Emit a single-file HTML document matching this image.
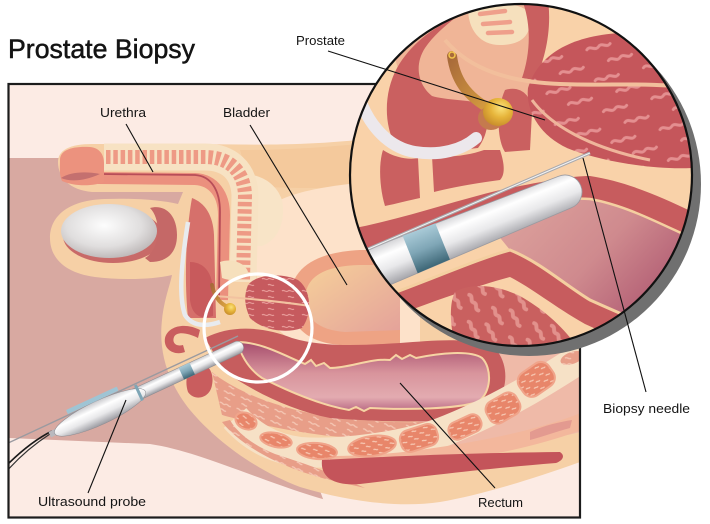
<!DOCTYPE html>
<html><head><meta charset="utf-8"><style>
html,body{margin:0;padding:0;background:#fff;}
svg{display:block;}
text{font-family:"Liberation Sans",sans-serif;fill:#141414;}
</style></head><body>
<svg width="710" height="524" viewBox="0 0 710 524" xmlns="http://www.w3.org/2000/svg">
<defs>
<clipPath id="fc"><rect x="9" y="85" width="570" height="432"/></clipPath>
<clipPath id="mc"><circle cx="521" cy="175" r="171"/></clipPath>
<radialGradient id="testis" cx="0.45" cy="0.4" r="0.65"><stop offset="0" stop-color="#fdfdfd"/><stop offset="0.6" stop-color="#e0dede"/><stop offset="1" stop-color="#b8b2b2"/></radialGradient>
<linearGradient id="blad" x1="0" y1="0" x2="1" y2="1"><stop offset="0" stop-color="#f6d09a"/><stop offset="1" stop-color="#e4a29a"/></linearGradient>
<linearGradient id="lumen" x1="0" y1="0" x2="0" y2="1"><stop offset="0" stop-color="#a54c6c"/><stop offset="0.45" stop-color="#d8949c"/><stop offset="0.8" stop-color="#e3abb0"/><stop offset="1" stop-color="#b96a84"/></linearGradient>
<linearGradient id="lumen2" x1="0" y1="0" x2="1" y2="0.6"><stop offset="0" stop-color="#e0a8a0"/><stop offset="0.55" stop-color="#cf8a8e"/><stop offset="1" stop-color="#a9506c"/></linearGradient>
<linearGradient id="probe" x1="0" y1="0" x2="0" y2="1"><stop offset="0" stop-color="#c9c9cd"/><stop offset="0.3" stop-color="#ffffff"/><stop offset="0.6" stop-color="#e8e8ea"/><stop offset="1" stop-color="#9a9aa0"/></linearGradient>
<linearGradient id="band" x1="0" y1="0" x2="0" y2="1"><stop offset="0" stop-color="#aacbd8"/><stop offset="0.5" stop-color="#7fa6b6"/><stop offset="1" stop-color="#3d6676"/></linearGradient>
<radialGradient id="ball" cx="0.6" cy="0.35" r="0.7"><stop offset="0" stop-color="#fbe27a"/><stop offset="0.5" stop-color="#e6b43a"/><stop offset="1" stop-color="#c68a2a"/></radialGradient>
<linearGradient id="tube" x1="0" y1="0" x2="1" y2="1"><stop offset="0" stop-color="#a86a3a"/><stop offset="1" stop-color="#d9a040"/></linearGradient>
<pattern id="pSal" width="18" height="12" patternUnits="userSpaceOnUse" patternTransform="rotate(20)">
<rect width="18" height="12" fill="#e89e88"/>
<path d="M2,3 c2,-2 4,2 6,0 s4,2 6,0 M5,9 c2,-2 4,2 6,0" stroke="#f5c7b4" stroke-width="1.3" fill="none"/>
</pattern>
<pattern id="pOr" width="12" height="8" patternUnits="userSpaceOnUse">
<rect width="12" height="8" fill="#e8866a"/>
<path d="M1,2 c1.5,-1.5 3,1.5 4.5,0 M6,6 c1.5,-1.5 3,1.5 4.5,0" stroke="#f8cbb6" stroke-width="1.2" fill="none"/>
</pattern>
<pattern id="pRed" width="20" height="12" patternUnits="userSpaceOnUse">
<rect width="20" height="12" fill="#c65a5e"/>
<path d="M2,3 c2,-2 4,2 6,0 s4,2 6,0 M8,9 c2,-2 4,2 6,0" stroke="#e79a98" stroke-width="1.2" fill="none"/>
</pattern>
<pattern id="pRedBig" width="50" height="32" patternUnits="userSpaceOnUse" patternTransform="rotate(-15)">
<rect width="50" height="32" fill="#c5565b"/>
<path d="M4,8 c4,-4 8,4 12,0 s8,4 12,0 M22,24 c4,-4 8,4 12,0 s8,4 12,0" stroke="#e48f90" stroke-width="3" fill="none" stroke-linecap="round"/>
</pattern>
<pattern id="pMus" width="34" height="28" patternUnits="userSpaceOnUse" patternTransform="rotate(60)">
<rect width="34" height="28" fill="#c9605f"/>
<path d="M3,7 c3,-3 6,3 9,0 s6,3 9,0 M14,21 c3,-3 6,3 9,0 s6,3 9,0" stroke="#e2918c" stroke-width="4" fill="none" stroke-linecap="round"/>
</pattern>
</defs>

<rect width="710" height="524" fill="#fff"/>

<!-- ===== MAIN FRAME ===== -->
<g clip-path="url(#fc)">
<rect x="8" y="84" width="572" height="434" fill="#fcebe4"/>
<path d="M8,158 L215,158 L250,300 L330,518 L8,518 Z" fill="#d8a9a1"/>
<path d="M8,438 L150,444 C190,450 230,468 300,492 C340,505 370,512 400,518 L8,518 Z" fill="#fcebe4"/>
<!-- tan body -->
<path d="M58,162 C58,150 70,144 92,144 L200,144 C260,145 320,146 390,136 L580,120 L580,462 C530,480 480,495 440,502 C400,508 350,502 300,487 C255,470 215,440 190,410 C170,385 158,355 162,320 C164,300 170,285 172,275 C150,280 120,280 95,277 C65,273 50,258 50,238 C50,215 70,200 105,199 C135,198 160,200 178,204 L183,192 L92,192 C70,190 58,178 58,162 Z" fill="#f6d0a6"/>
<path d="M240,150 C300,150 340,146 400,140 L400,185 C340,188 290,190 250,185 Z" fill="#f4c99c"/>
<path d="M262,215 C275,192 330,185 390,180 L420,180 L420,355 L330,355 C285,345 262,320 258,290 C255,260 255,235 262,215 Z" fill="#fde2ca"/>
<path d="M238,175 C255,172 275,180 282,200 C286,222 278,240 262,246 L245,246 Z" fill="#f8e4c7"/>
<!-- bladder -->
<path d="M290,300 C290,265 320,252 360,250 L400,250 L400,345 L340,345 C305,342 290,325 290,300 Z" fill="#eea384"/>
<path d="M305,300 C305,276 325,266 360,265 L400,265 L400,330 L345,332 C318,330 305,318 305,300 Z" fill="url(#blad)"/>

<!-- penis structures -->
<path d="M104,157 L205,157 C228,157 244,170 245,195 L243,282" stroke="#f7e2c3" stroke-width="27" fill="none"/>
<path d="M106,157 L205,157 C228,157 244,170 245,195 L243,280" stroke="#ee9a85" stroke-width="14" fill="none" stroke-dasharray="4.5 2.8"/>
<path d="M192,198 C205,203 213,215 214,235 L216,318 L188,318 C184,280 186,230 192,198 Z" fill="#d6706b"/>
<path d="M98,178 L195,179 C214,180 224,195 224,215 L222,300" stroke="#eb907e" stroke-width="12" fill="none"/>
<path d="M100,174 L195,175 C211,176 220,190 220,212 L219,300" stroke="#b84d58" stroke-width="1.8" fill="none"/>
<path d="M60,160 C60,150 72,146 90,147 C100,148 104,155 104,163 L104,182 C95,186 75,187 62,181 C59,175 60,166 60,160 Z" fill="#ec927e"/>
<path d="M61,178 C70,172 85,171 100,174 C85,181 70,182 61,178 Z" fill="#c4706f"/>
<path d="M190,262 C200,262 212,268 213,290 L213,316 C200,320 192,315 190,300 Z" fill="#c85a5c"/>
<path d="M188,222 C182,260 178,295 185,315 C192,326 205,327 220,322" stroke="#e8ebef" stroke-width="4.5" fill="none"/>

<!-- scrotum -->
<ellipse cx="113" cy="236" rx="50" ry="27" fill="#c86a68"/>
<path d="M150,208 C165,204 177,215 177,235 C177,252 168,262 150,262 L145,258 C160,250 162,220 150,208 Z" fill="#c56867"/>
<ellipse cx="109" cy="231" rx="48" ry="27" fill="url(#testis)"/>

<!-- pink region right of rectum -->
<path d="M490,350 L580,342 L580,432 C540,442 480,452 420,458 L400,440 Z" fill="#efbaa8"/>
<!-- muscle band above ovals -->
<path d="M212,372 C240,395 290,412 340,418 C380,422 420,425 470,418 L475,430 C420,440 370,440 330,436 C280,430 240,420 222,415 Z" fill="url(#pSal)"/>
<!-- rectum -->
<path d="M205,338 C230,325 262,326 292,338 C325,348 365,345 400,343 C440,340 480,336 498,352 C512,372 506,405 480,416 C440,424 380,422 330,418 C290,410 255,392 225,372 Z" fill="#c65d5e"/>
<path d="M237,342 C262,342 285,356 305,364 l6,-4 l5,6 l8,-3 l6,5 C350,368 370,358 390,360 l6,-5 l6,4 l8,-4 l6,3 C440,353 470,350 482,358 C492,368 492,392 478,402 C455,409 410,410 370,408 l-6,3 l-8,-4 l-7,3 C320,405 290,392 262,378 C250,370 242,358 237,342 Z" fill="url(#lumen)" stroke="#f6d4a4" stroke-width="2"/>
<!-- cream band with ovals -->
<path d="M590,352 C550,378 500,410 440,433 C400,447 340,455 300,452 C270,448 250,435 235,418" stroke="#f6e1c6" stroke-width="30" fill="none"/>
<path d="M585,420 C540,438 480,450 420,458 C390,462 360,464 330,464" stroke="#f3b79c" stroke-width="16" fill="none"/>
<path d="M530,432 C545,425 560,422 572,420 L570,428 C555,432 545,436 530,440 Z" fill="#e39a90"/>
<g stroke="#f0a48a" stroke-width="2">
<ellipse cx="246" cy="421" rx="11" ry="8" transform="rotate(25 246 421)" fill="url(#pOr)"/>
<ellipse cx="276" cy="440" rx="16" ry="7" transform="rotate(12 276 440)" fill="url(#pOr)"/>
<ellipse cx="317" cy="451" rx="20" ry="8" transform="rotate(5 317 451)" fill="url(#pOr)"/>
<ellipse cx="372" cy="446" rx="24" ry="10" transform="rotate(-8 372 446)" fill="url(#pOr)"/>
<rect x="400" y="427" width="38" height="22" rx="9" transform="rotate(-18 419 438)" fill="url(#pOr)"/>
<rect x="448" y="418" width="34" height="18" rx="8" transform="rotate(-25 465 427)" fill="url(#pOr)"/>
<rect x="486" y="396" width="34" height="24" rx="9" transform="rotate(-30 503 408)" fill="url(#pOr)"/>
<rect x="518" y="366" width="36" height="27" rx="10" transform="rotate(-35 536 379)" fill="url(#pOr)"/>
</g>
<ellipse cx="572" cy="358" rx="12" ry="6" transform="rotate(-20 572 358)" fill="url(#pSal)"/>
<path d="M222,422 C240,445 280,468 330,480 L365,488 C330,472 300,462 275,454 C255,446 238,434 230,420 Z" fill="url(#pSal)"/>
<path d="M322,460 C380,457 460,453 560,452 C566,456 562,461 556,463 C470,470 410,478 360,484 C335,486 320,478 322,460 Z" fill="#c4545a"/>

<!-- small circle contents -->
<path d="M220,262 C230,258 245,262 248,272 C246,280 232,282 222,278 Z" fill="#f6e0bd"/>
<path d="M248,285 C255,275 280,272 298,280 C312,290 312,315 302,328 C285,334 262,330 250,318 C244,305 244,295 248,285 Z" fill="url(#pRed)"/>
<path d="M215,296 C240,298 270,300 310,306" stroke="#f2c2a0" stroke-width="2" fill="none"/>
<path d="M212,285 C214,295 218,302 226,306" stroke="url(#tube)" stroke-width="4" fill="none" stroke-linecap="round"/>
<circle cx="230" cy="309" r="6" fill="url(#ball)"/>
<path d="M200,330 C185,322 168,326 165,338 C163,350 175,356 185,352 L183,345 C175,347 172,342 174,337 C177,331 188,333 198,338 Z" fill="#c95d5e"/>
<path d="M195,365 C205,360 215,370 212,385 C210,398 195,402 188,392 C184,380 188,368 195,365 Z" fill="#c95d5e"/>

<!-- probe main -->
<path d="M52,431 C38,438 22,450 6,466" stroke="#1a1a1a" stroke-width="1.6" fill="none"/>
<path d="M50,434 C36,443 20,456 6,472" stroke="#333" stroke-width="1.2" fill="none"/>
<line x1="6" y1="444" x2="238" y2="336" stroke="#9a9aa0" stroke-width="1.4"/>
<g transform="translate(243,345) rotate(-24.9)">
<rect x="-135" y="-6.5" width="135" height="13" rx="6.5" fill="url(#probe)" stroke="#8a8a90" stroke-width="0.5"/>
<rect x="-213" y="-3" width="12" height="6" fill="#b9b9be"/>
<ellipse cx="-158" cy="1" rx="50" ry="12" fill="url(#probe)" stroke="#8a8a90" stroke-width="0.5"/>
<rect x="-116" y="-9" width="3" height="17" fill="#7fa6b6"/>
<rect x="-68" y="-6.5" width="12" height="13" fill="url(#band)"/>
<rect x="-188" y="-15.5" width="56" height="4.5" rx="1" fill="#9fc4d4"/>
</g>
<circle cx="258" cy="328" r="54" fill="none" stroke="#ffffff" stroke-width="3.2"/>
</g>
<rect x="8.5" y="84" width="571.5" height="433.5" fill="none" stroke="#1c1c1c" stroke-width="2.2"/>

<!-- ===== MAGNIFIER ===== -->
<circle cx="529" cy="184" r="172" fill="#707070"/>
<g clip-path="url(#mc)">
<circle cx="521" cy="175" r="171" fill="#f9d2a9"/>
<path d="M395,30 C430,8 500,0 545,5 L540,115 C500,118 450,112 420,100 C400,85 390,55 395,30 Z" fill="#f0b597"/>
<path d="M468,8 C490,0 525,2 530,15 C532,35 522,45 500,45 C480,45 468,30 468,8 Z" fill="#f6e0bd"/>
<path d="M480,14 L505,11 M483,24 L510,22 M488,33 L512,32" stroke="#ef9f8b" stroke-width="4.5" stroke-linecap="round"/>
<path d="M522,0 L548,0 C552,30 545,60 535,80 L522,78 C530,55 532,25 522,0 Z" fill="#c95f5f"/>
<path d="M455,18 C432,28 410,45 397,68 C385,90 384,118 392,138 C400,150 412,155 430,153 L478,148 C488,135 490,118 484,104 C470,100 445,100 432,96 C418,85 414,65 425,48 C433,36 445,26 455,18 Z" fill="#ca6060"/>
<path d="M505,90 C520,85 532,95 532,112 L530,150 L505,152 C497,140 496,110 505,90 Z" fill="#ca6060"/>
<path d="M452,56 C455,78 465,96 492,110" stroke="url(#tube)" stroke-width="10" fill="none" stroke-linecap="round"/>
<circle cx="452" cy="55" r="3" fill="none" stroke="#f3c64c" stroke-width="1.5"/>
<ellipse cx="491" cy="118" rx="13" ry="12" fill="#c57a4e"/>
<ellipse cx="498" cy="112" rx="15" ry="14" fill="url(#ball)"/>
<path d="M383,150 C395,158 410,160 418,158 L420,198 C410,200 395,204 385,206 C380,190 378,165 383,150 Z" fill="#ca6060"/>
<path d="M432,156 C450,158 470,155 484,150 L500,150 C505,165 505,175 500,180 C470,184 450,188 434,192 Z" fill="#ca6060"/>
<path d="M362,105 C372,128 390,148 415,152 C440,156 462,150 476,138" stroke="#ece8ec" stroke-width="12" fill="none" stroke-linecap="round"/>
<!-- prostate -->
<path d="M528,88 C538,55 570,36 620,33 C662,32 688,65 692,115 L692,168 C655,170 605,162 572,150 C545,140 525,115 528,88 Z" fill="url(#pRedBig)"/>
<path d="M445,40 C470,70 510,82 560,84 C610,86 650,82 695,88" stroke="#f2bf9c" stroke-width="4" fill="none"/>
<path d="M532,100 C550,125 590,148 650,160" stroke="#efb59b" stroke-width="3" fill="none"/>
<!-- upper rectal wall -->
<path d="M345,230 C400,220 450,202 500,190 C540,182 570,176 590,176 C630,182 668,200 705,218 L705,244 C668,228 630,206 590,199 C560,197 520,204 480,213 C430,226 390,242 345,254 Z" fill="#c75c5e"/>
<!-- lumen -->
<path d="M480,213 C520,204 560,197 590,199 C630,206 668,228 705,244 L705,345 C670,335 630,318 590,300 C565,285 540,262 510,250 Z" fill="url(#lumen2)"/>
<path d="M480,213 C520,204 560,197 590,199 C630,206 668,228 705,244" stroke="#f4cfa0" stroke-width="2.5" fill="none"/>
<!-- lower wall -->
<path d="M380,298 C430,280 480,258 510,250 C540,262 565,285 590,300 C630,318 670,335 705,345 L705,372 C665,362 625,342 585,324 C555,307 530,287 510,277 C480,285 430,302 380,322 Z" fill="#c75c5e"/>
<path d="M380,298 C430,280 480,258 510,250 C540,262 565,285 590,300 C630,318 670,335 705,345" stroke="#f4cfa0" stroke-width="3" fill="none"/>
<path d="M455,292 C470,283 495,284 520,296 C545,310 570,332 585,360 L460,360 C450,335 448,305 455,292 Z" fill="url(#pMus)"/>
<!-- probe -->
<g transform="translate(565,192) rotate(-22)">
<path d="M0,-17 A17,17 0 0 1 0,17 L-330,23 L-330,-23 Z" fill="url(#probe)" stroke="#9a9aa0" stroke-width="0.8"/>
<polygon points="-167,-20.1 -132,-19.5 -132,19.5 -167,20.1" fill="url(#band)"/>
</g>
<line x1="352" y1="256" x2="590" y2="153" stroke="#a9a9ad" stroke-width="3.2"/>
<line x1="352" y1="256" x2="590" y2="153" stroke="#f2f2f2" stroke-width="1.1"/>
</g>
<circle cx="521" cy="175" r="171" fill="none" stroke="#111" stroke-width="2.2"/>

<!-- ===== LABELS ===== -->
<g stroke="#111" stroke-width="1.1">
<line x1="328" y1="51" x2="545" y2="120"/>
<line x1="126" y1="124" x2="153" y2="172"/>
<line x1="250" y1="125" x2="347" y2="285"/>
<line x1="583" y1="158" x2="646" y2="392"/>
<line x1="400" y1="383" x2="495" y2="488"/>
<line x1="126" y1="400" x2="88" y2="493"/>
</g>
<text x="8" y="58" font-size="27" textLength="187" lengthAdjust="spacingAndGlyphs" stroke="#111" stroke-width="0.5">Prostate Biopsy</text>
<text x="296" y="45" font-size="13" textLength="49" lengthAdjust="spacingAndGlyphs">Prostate</text>
<text x="100" y="117" font-size="13" textLength="46" lengthAdjust="spacingAndGlyphs">Urethra</text>
<text x="223" y="117" font-size="13" textLength="47" lengthAdjust="spacingAndGlyphs">Bladder</text>
<text x="603" y="413" font-size="13" textLength="87" lengthAdjust="spacingAndGlyphs">Biopsy needle</text>
<text x="478" y="507" font-size="13" textLength="45" lengthAdjust="spacingAndGlyphs">Rectum</text>
<text x="38" y="506" font-size="13" textLength="108" lengthAdjust="spacingAndGlyphs">Ultrasound probe</text>
</svg>
</body></html>
